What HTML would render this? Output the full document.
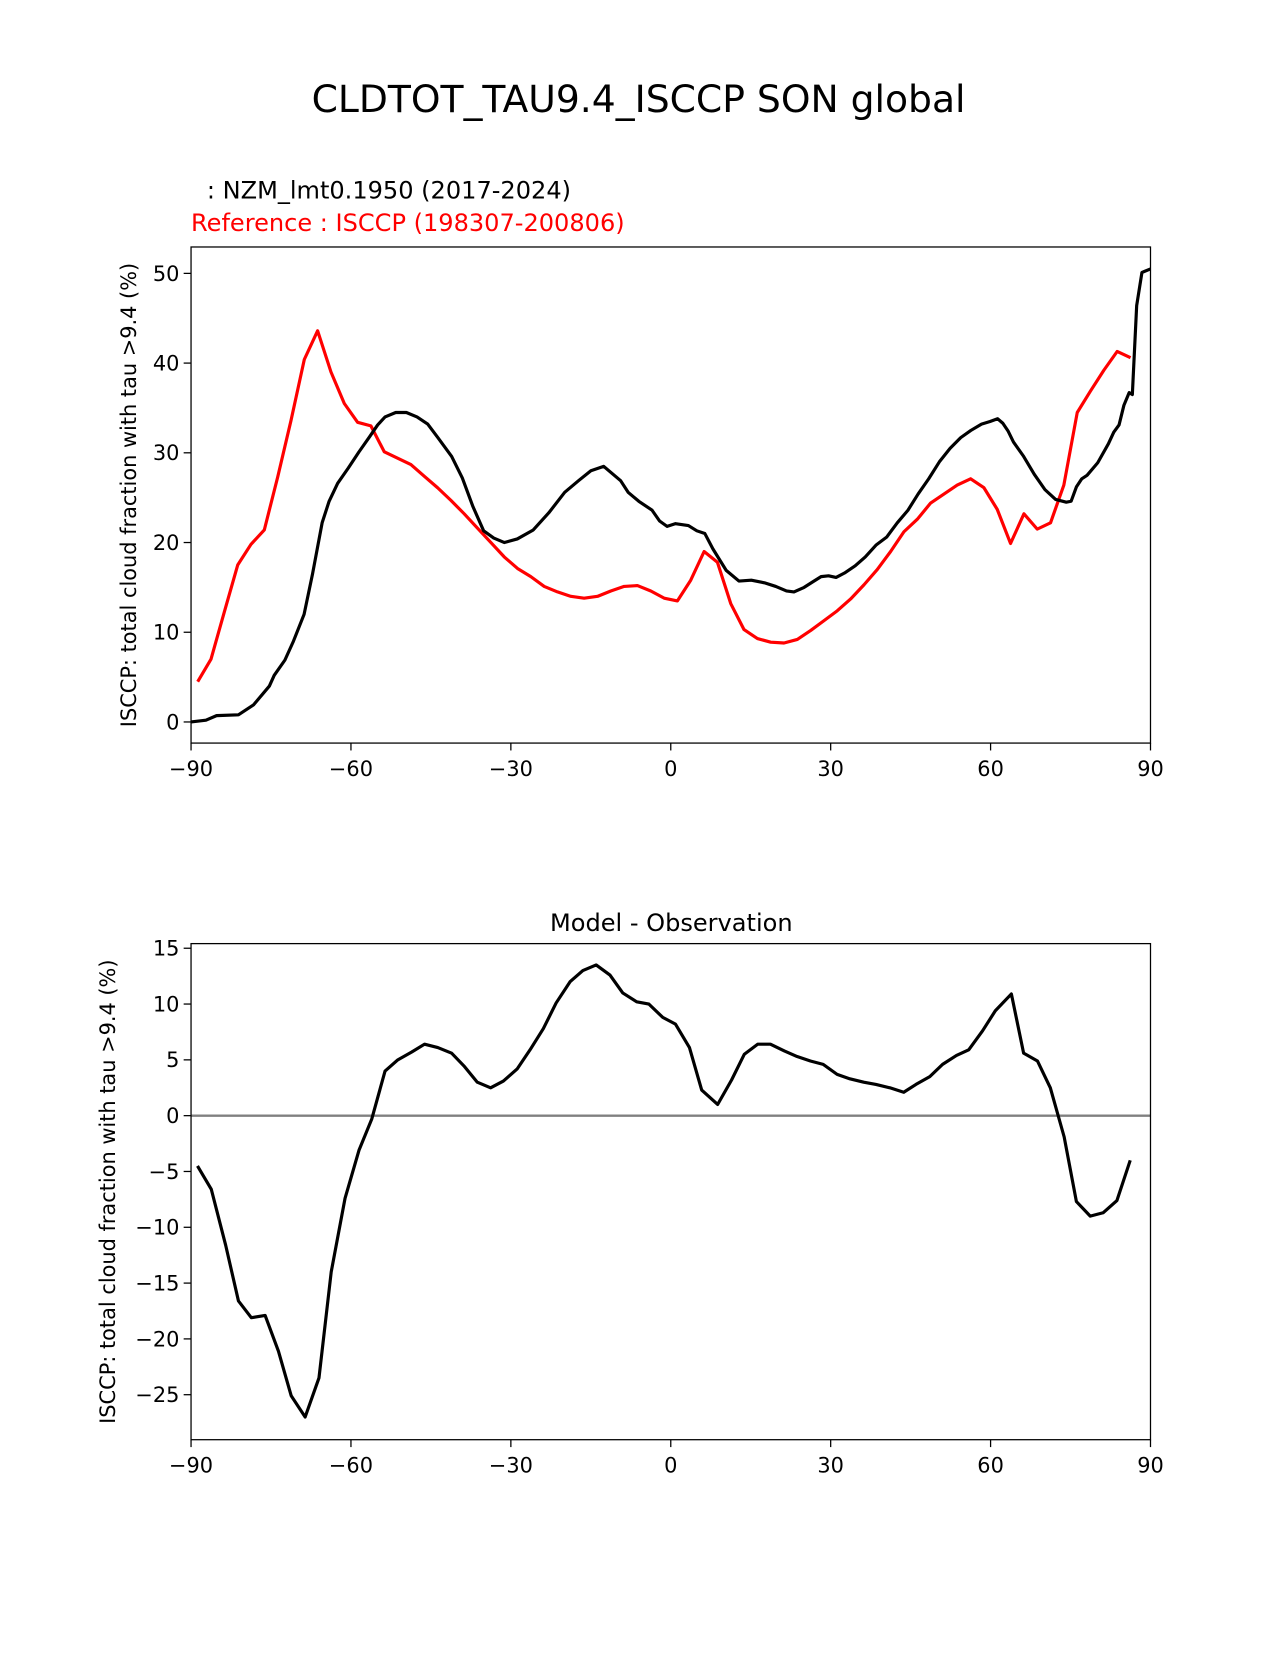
<!DOCTYPE html>
<html><head><meta charset="utf-8"><style>
body{margin:0;background:#fff;}
svg text{font-family:"DejaVu Sans","Liberation Sans",sans-serif;}
</style></head><body>
<svg id="fig" width="1275" height="1650" viewBox="0 0 1275 1650" xmlns="http://www.w3.org/2000/svg">
<rect width="1275" height="1650" fill="#fff"/>
<g transform="scale(1.0555)">
<text x="605" y="106" font-size="35.7" text-anchor="middle">CLDTOT_TAU9.4_ISCCP SON global</text>
<text x="196" y="188" font-size="22.8">: NZM_lmt0.1950 (2017-2024)</text>
<text x="181" y="219" font-size="22.8" fill="#ff0000">Reference : ISCCP (198307-200806)</text>
<text x="636" y="882" font-size="22.8" text-anchor="middle">Model - Observation</text>
<g id="top"></g>
<g id="bot"></g>
</g>
</svg>
<script>
const xTicks=[-90,-60,-30,0,30,60,90];
const topYTicks=[0,10,20,30,40,50];
const botYTicks=[15,10,5,0,-5,-10,-15,-20,-25];
const refLat=[-88.75,-86.25,-83.75,-81.25,-78.75,-76.25,-73.75,-71.25,-68.75,-66.25,-63.75,-61.25,-58.75,-56.25,-53.75,-51.25,-48.75,-46.25,-43.75,-41.25,-38.75,-36.25,-33.75,-31.25,-28.75,-26.25,-23.75,-21.25,-18.75,-16.25,-13.75,-11.25,-8.75,-6.25,-3.75,-1.25,1.25,3.75,6.25,8.75,11.25,13.75,16.25,18.75,21.25,23.75,26.25,28.75,31.25,33.75,36.25,38.75,41.25,43.75,46.25,48.75,51.25,53.75,56.25,58.75,61.25,63.75,66.25,68.75,71.25,73.75,76.25,78.75,81.25,83.75,86.25];
const refVal=[4.5,7,12.3,17.5,19.8,21.4,27.3,33.6,40.4,43.6,39,35.5,33.4,33,30.1,29.4,28.7,27.4,26.1,24.7,23.2,21.6,20,18.4,17.1,16.2,15.1,14.5,14,13.8,14,14.6,15.1,15.2,14.6,13.8,13.5,15.8,19,17.8,13.2,10.3,9.3,8.9,8.8,9.2,10.2,11.3,12.4,13.7,15.3,17,19,21.2,22.6,24.4,25.4,26.4,27.1,26.1,23.7,19.9,23.2,21.5,22.2,26.4,34.5,36.9,39.2,41.3,40.6];
const modLat=[-90,-87.2,-85.2,-81.1,-78.3,-75.3,-74.4,-72.4,-70.8,-68.8,-67.2,-65.4,-64.1,-62.5,-60.5,-58.5,-56.5,-55,-53.6,-51.6,-49.6,-47.6,-45.6,-43.7,-41.1,-39.1,-37.1,-35.1,-33.2,-31.2,-28.8,-25.8,-22.9,-19.9,-17.3,-15,-12.6,-9.4,-8,-6,-3.5,-2.1,-0.7,0.9,3.3,4.9,6.4,7.9,10.4,12.8,15.1,17.7,19.7,21.7,23.1,25,26.6,28.2,29.6,31,32.6,34.6,36.5,38.5,40.5,42.5,44.5,46.4,48.4,50.4,52.4,54.4,56.3,58.3,59.9,61.3,62.3,63.3,64.3,66.2,68.2,70.2,72.2,74.2,75.1,76.1,77.1,78.1,80.1,82.1,83.1,84.1,85,86,86.6,87.4,88.4,90];
const modVal=[0,0.2,0.7,0.8,1.9,4,5.2,6.9,9,12,16.5,22.2,24.6,26.6,28.3,30.1,31.8,33.1,34,34.5,34.5,34,33.2,31.7,29.6,27.2,24,21.3,20.5,20,20.4,21.4,23.3,25.6,26.9,28,28.5,26.9,25.6,24.6,23.6,22.4,21.8,22.1,21.9,21.3,21,19.3,16.9,15.7,15.8,15.5,15.1,14.6,14.5,15,15.6,16.2,16.3,16.1,16.6,17.4,18.4,19.7,20.6,22.2,23.6,25.4,27.1,29,30.5,31.7,32.5,33.2,33.5,33.8,33.3,32.4,31.2,29.6,27.6,25.9,24.8,24.5,24.6,26.2,27.1,27.5,28.9,31,32.3,33.1,35.3,36.7,36.5,46.4,50.1,50.5];
const diffLat=[-88.8,-86.2,-83.5,-81.1,-78.7,-76.1,-73.6,-71.2,-68.6,-66,-63.7,-61.1,-58.5,-56.1,-53.6,-51.2,-48.6,-46.2,-43.7,-41.1,-38.7,-36.3,-33.8,-31.4,-28.8,-26.4,-23.9,-21.5,-18.9,-16.5,-14,-11.4,-9,-6.4,-4.1,-1.5,0.9,3.5,5.8,8.8,11.4,13.8,16.3,18.7,21.3,23.7,26.2,28.6,31.2,33.6,36.2,38.5,41.1,43.7,46,48.6,51,53.6,55.9,58.5,60.9,63.9,66.2,68.8,71.2,73.8,76.1,78.7,81.1,83.7,86.2];
const diffVal=[-4.5,-6.6,-11.6,-16.6,-18.1,-17.9,-21.1,-25.1,-27,-23.5,-14,-7.4,-3.1,-0.3,4,5,5.7,6.4,6.1,5.6,4.4,3,2.5,3.1,4.2,5.9,7.8,10.1,12,13,13.5,12.6,11,10.2,10,8.8,8.2,6.1,2.3,1,3.2,5.5,6.4,6.4,5.8,5.3,4.9,4.6,3.7,3.3,3,2.8,2.5,2.1,2.8,3.5,4.6,5.4,5.9,7.6,9.4,10.9,5.6,4.9,2.5,-1.9,-7.7,-9,-8.7,-7.6,-4];
const NS='http://www.w3.org/2000/svg';
function mk(p,t,a){const e=document.createElementNS(NS,t);for(const k in a)e.setAttribute(k,a[k]);p.appendChild(e);return e;}
const L=181,R=1090;
const X=v=>L+(v+90)/180*(R-L);
function axes(g,top,bot,y0px,ppu,yticks,lblY){
  const Y=v=>y0px-v*ppu;
  xTicks.forEach(t=>{
    const l=mk(g,'line',{x1:X(t),x2:X(t),y1:bot,y2:bot+7,stroke:'#000','stroke-width':1.2});
    
    
    const tx=mk(g,'text',{x:X(t),y:bot+31,'font-size':19.8,'text-anchor':'middle'});
    tx.textContent=(t<0?'\u2212'+(-t):t);
    
    
  });
  yticks.forEach(t=>{
    const l=mk(g,'line',{x1:L-7,x2:L,y1:Y(t),y2:Y(t),stroke:'#000','stroke-width':1.2});
    
    
    const tx=mk(g,'text',{x:L-11,y:Y(t)+7,'font-size':19.8,'text-anchor':'end'});
    tx.textContent=(t<0?'\u2212'+(-t):t);
    
    
  });
  const yl=mk(g,'text',{x:0,y:0,'font-size':19.8,'text-anchor':'middle',transform:`translate(${lblY},${(top+bot)/2}) rotate(-90)`});
  yl.textContent='ISCCP: total cloud fraction with tau >9.4 (%)';
  
  
  return Y;
}
function line(g,xs,ys,Y,color,name){
  const d=xs.map((x,i)=>(i?'L':'M')+X(x).toFixed(1)+','+Y(ys[i]).toFixed(1)).join('');
  const p=mk(g,'path',{d:d,fill:'none',stroke:color,'stroke-width':3,'stroke-linejoin':'round'});
  
  
}
function frame(g,top,bot){
  const r=mk(g,'rect',{x:L,y:top,width:R-L,height:bot-top,fill:'none',stroke:'#000','stroke-width':1.2});
  
  
}
const gt=document.getElementById('top');
const Yt=axes(gt,234,704,684,8.5,topYTicks,129);
line(gt,refLat,refVal,Yt,'#ff0000','reference-line');
line(gt,modLat,modVal,Yt,'#000','model-line');
frame(gt,234,704);
const gb=document.getElementById('bot');
const Yb=axes(gb,894,1364,1057,10.575,botYTicks,109);
const z=mk(gb,'line',{x1:L,x2:R,y1:Yb(0),y2:Yb(0),stroke:'#808080','stroke-width':2.3});


line(gb,diffLat,diffVal,Yb,'#000','difference-line');
frame(gb,894,1364);
</script>
</body></html>
